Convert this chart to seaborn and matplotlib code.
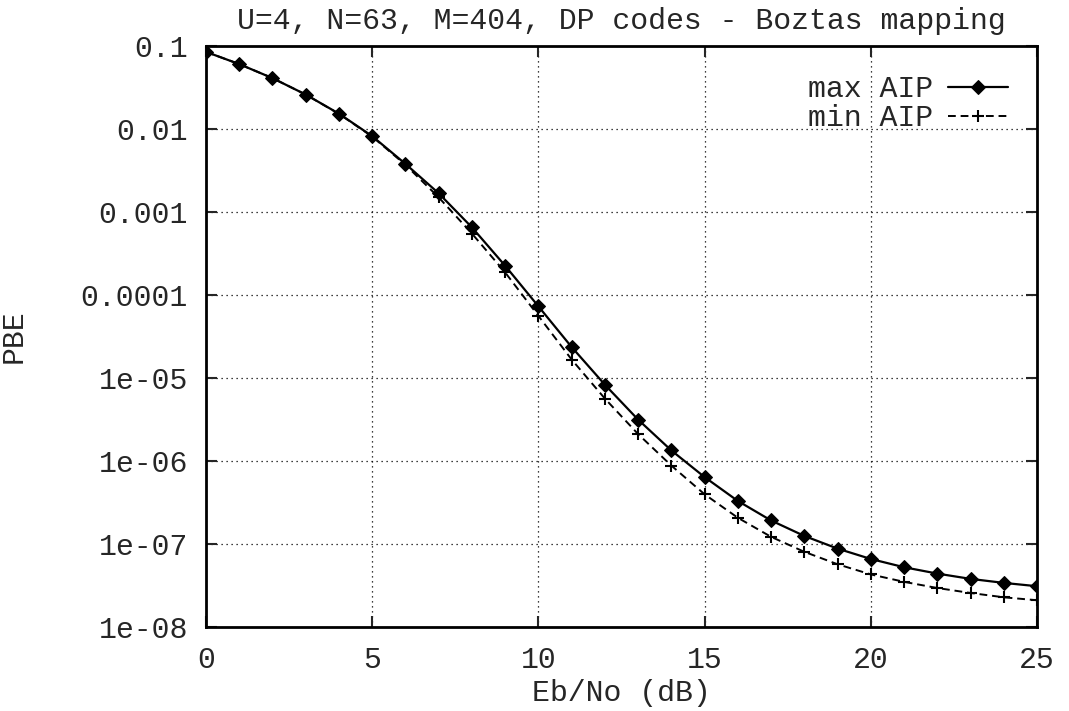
import numpy as np
import pandas as pd
import matplotlib
matplotlib.use("Agg")
import matplotlib.pyplot as plt
import seaborn as sns
from matplotlib.ticker import FixedLocator, FixedFormatter

# ---- data ----
ebno = list(range(0, 26))
pbe_max = [0.085, 0.0605, 0.041, 0.026, 0.0153, 0.0082, 0.0038, 0.00168, 0.000653,
           0.000225, 7.3e-5, 2.36e-5, 8.3e-6, 3.15e-6, 1.34e-6, 6.4e-7, 3.3e-7,
           1.92e-7, 1.25e-7, 8.8e-8, 6.6e-8, 5.25e-8, 4.4e-8, 3.8e-8, 3.4e-8, 3.1e-8]
pbe_min = [0.085, 0.0605, 0.041, 0.026, 0.0152, 0.0081, 0.0037, 0.0015, 0.00055,
           0.000187, 5.6e-5, 1.67e-5, 5.65e-6, 2.11e-6, 8.8e-7, 3.97e-7, 2.07e-7,
           1.22e-7, 8.05e-8, 5.7e-8, 4.3e-8, 3.5e-8, 2.95e-8, 2.57e-8, 2.28e-8, 2.1e-8]
series_names = ["max AIP", "min AIP"]
y_ticks = [1e-1, 1e-2, 1e-3, 1e-4, 1e-5, 1e-6, 1e-7, 1e-8]
y_tick_labels = ["0.1", "0.01", "0.001", "0.0001", "1e-05", "1e-06", "1e-07", "1e-08"]
x_ticks = [0, 5, 10, 15, 20, 25]
title = "U=4, N=63, M=404, DP codes - Boztas mapping"

df_max = pd.DataFrame({"x": ebno, "y": pbe_max})
df_min = pd.DataFrame({"x": ebno, "y": pbe_min})

sns.set_style("ticks")
plt.rcParams['font.family'] = ['Liberation Mono', 'DejaVu Sans Mono']
FS = 21.5
plt.rcParams['font.size'] = FS

fig = plt.figure(figsize=(10.69, 7.11), dpi=100)
ax = fig.add_axes([206/1069, (711-627)/711, (1037-206)/1069, (627-46)/711])

sns.lineplot(data=df_max, x="x", y="y", ax=ax, color="black", linewidth=1.6,
             marker="D", markersize=7.5, markeredgecolor="black",
             label=series_names[0])
sns.lineplot(data=df_min, x="x", y="y", ax=ax, color="black", linewidth=1.4,
             linestyle=(0, (4, 2.5)), marker="+", markersize=9, markeredgewidth=1.5,
             markeredgecolor="black", label=series_names[1])

ax.set_yscale("log")
ax.set_xlim(0, 25)
ax.set_ylim(1e-8, 1e-1)
ax.yaxis.set_major_locator(FixedLocator(y_ticks))
ax.yaxis.set_major_formatter(FixedFormatter(y_tick_labels))
ax.yaxis.set_minor_locator(FixedLocator([]))
ax.set_xticks(x_ticks)
ax.set_xticklabels([str(t) for t in x_ticks])

ax.grid(True, which="major", color="black", linestyle=(0, (1, 3)), linewidth=0.9)
ax.tick_params(which="both", direction="in", top=True, right=True, length=8, width=1.5,
               labelsize=FS)
ax.tick_params(axis="y", pad=13)
ax.tick_params(axis="x", pad=14)
for sp in ax.spines.values():
    sp.set_linewidth(2)
    sp.set_color("black")

ax.set_title(title, fontsize=FS, pad=12)
ax.set_xlabel("Eb/No (dB)", fontsize=FS, labelpad=3)
ax.set_ylabel("PBE", fontsize=FS, labelpad=38)

leg = ax.legend(loc="upper right", frameon=False, markerfirst=False, handlelength=2.0,
                fontsize=FS, borderaxespad=0.57, labelspacing=0.05, handletextpad=0.5)

fig.savefig("out.png", dpi=100)
